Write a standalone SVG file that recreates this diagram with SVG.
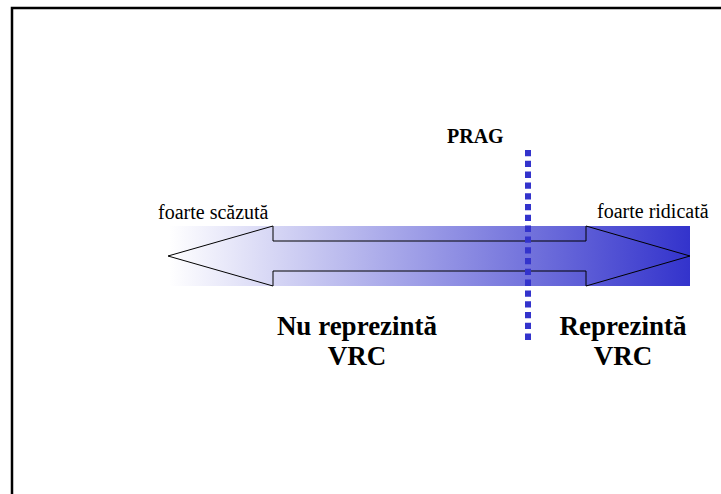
<svg xmlns="http://www.w3.org/2000/svg" width="721" height="494" viewBox="0 0 721 494">
<defs>
<linearGradient id="g" x1="0" y1="0" x2="1" y2="0">
<stop offset="0" stop-color="#ffffff"/>
<stop offset="1" stop-color="#3333cc"/>
</linearGradient>
</defs>
<rect x="0" y="0" width="721" height="494" fill="#fff"/>
<rect x="12" y="8" width="720" height="500" fill="none" stroke="#000" stroke-width="2.5"/>
<g id="bar">
<rect x="169" y="226" width="521" height="60" fill="url(#g)"/>
<path d="M168,256 L273,226 L273,241 L586,241 L586,226 L690,256 L586,286 L586,271 L273,271 L273,286 Z" fill="none" stroke="#000" stroke-width="1"/>
</g>
<g id="connectors">
<line x1="528" y1="150" x2="528" y2="341" stroke="#3333cc" stroke-width="6" stroke-dasharray="6.3 4.5"/>
</g>
<g id="labels" font-family="'Liberation Serif', 'Times New Roman', serif" fill="#000">
<text x="447" y="143" font-weight="bold" font-size="20">PRAG</text>
<text x="158" y="218.5" font-size="20">foarte scăzută</text>
<text x="597" y="218" font-size="20">foarte ridicată</text>
<text x="357" y="335" text-anchor="middle" font-weight="bold" font-size="27">Nu reprezintă</text>
<text x="357" y="365" text-anchor="middle" font-weight="bold" font-size="27">VRC</text>
<text x="623" y="335" text-anchor="middle" font-weight="bold" font-size="27">Reprezintă</text>
<text x="623" y="365" text-anchor="middle" font-weight="bold" font-size="27">VRC</text>
</g>
</svg>
